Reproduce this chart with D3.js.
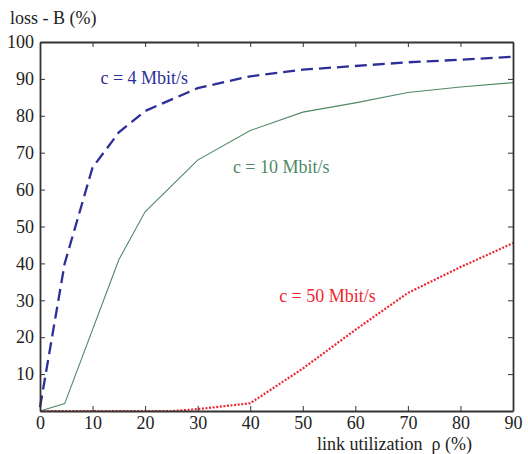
<!DOCTYPE html>
<html>
<head>
<meta charset="utf-8">
<script src="https://cdn.jsdelivr.net/npm/d3@7"></script>
<style>
  html, body { margin: 0; padding: 0; background: #fff; }
  svg { display: block; }
  text { font-family: "Liberation Serif", "DejaVu Serif", serif; }
</style>
</head>
<body>
<script>
// Loss probability B (%) versus link utilization rho (%) for three link capacities
const rho4   = [0, 4.7, 10, 15, 20, 30, 40, 50, 60, 70, 80, 90];
const loss4  = [1, 40, 66, 75.5, 81.3, 87.5, 90.7, 92.5, 93.5, 94.5, 95.2, 96];

const rho10  = [0, 4.7, 15, 20, 30, 40, 50, 60, 70, 80, 90];
const loss10 = [0, 2, 41, 54, 68, 76, 81, 83.5, 86.3, 87.8, 89];

const rho50  = [0, 10, 20, 25, 30, 35, 40, 50, 60, 70, 80, 90];
const loss50 = [0, 0, 0, 0, 0.5, 1.3, 2.1, 11.5, 22, 32, 39, 45.5];

const xTicks = [0, 10, 20, 30, 40, 50, 60, 70, 80, 90];
const yTicks = [10, 20, 30, 40, 50, 60, 70, 80, 90, 100];

const W = 528, H = 454;
const margin = { left: 40, right: 15, top: 42, bottom: 43 };

const svg = d3.select("body").append("svg")
  .attr("width", W).attr("height", H);

const x = d3.scaleLinear().domain([0, 90]).range([margin.left, W - margin.right]);
const y = d3.scaleLinear().domain([0, 100]).range([H - margin.bottom, margin.top]);

const axisColor = "#333";
const tickLen = 5;

// Curves
const line = d3.line().x(d => x(d[0])).y(d => y(d[1]));
const series = [
  { xs: rho4,  ys: loss4,  color: "#2b2f97", width: 2.3, dash: "12,6" },
  { xs: rho10, ys: loss10, color: "#4e8966", width: 1.1, dash: null },
  { xs: rho50, ys: loss50, color: "#ee2630", width: 2.2, dash: "2,1.6" }
];
series.forEach(s => {
  svg.append("path")
    .datum(s.xs.map((v, i) => [v, s.ys[i]]))
    .attr("d", line)
    .attr("fill", "none")
    .attr("stroke", s.color)
    .attr("stroke-width", s.width)
    .attr("stroke-dasharray", s.dash);
});

// Frame axes with inward ticks on all four sides
const gB = svg.append("g").attr("transform", `translate(0,${y(0)})`)
  .call(d3.axisBottom(x).tickValues(xTicks).tickSizeInner(-tickLen).tickSizeOuter(0));
const gT = svg.append("g").attr("transform", `translate(0,${y(100)})`)
  .call(d3.axisTop(x).tickValues(xTicks).tickSizeInner(-tickLen).tickSizeOuter(0).tickFormat(""));
const gL = svg.append("g").attr("transform", `translate(${x(0)},0)`)
  .call(d3.axisLeft(y).tickValues(yTicks).tickSizeInner(-tickLen).tickSizeOuter(0).tickPadding(6));
const gR = svg.append("g").attr("transform", `translate(${x(90)},0)`)
  .call(d3.axisRight(y).tickValues(yTicks).tickSizeInner(-tickLen).tickSizeOuter(0).tickFormat(""));

[gB, gT, gL, gR].forEach(g => {
  g.select(".domain").attr("stroke", axisColor).attr("stroke-width", 1.8);
  g.selectAll(".tick line").attr("stroke", axisColor).attr("stroke-width", 1);
  g.selectAll(".tick text")
    .attr("fill", "#222")
    .style("font-family", '"Liberation Serif", serif')
    .style("font-size", "18px");
});
gB.selectAll(".tick text").attr("dy", "0.71em").attr("y", 5);

// Axis titles
svg.append("text")
  .attr("x", 10).attr("y", 24)
  .attr("font-size", 18).attr("fill", "#222")
  .text("loss - B (%)");

svg.append("text")
  .attr("x", 472).attr("y", 450)
  .attr("text-anchor", "end")
  .attr("font-size", 18).attr("fill", "#222")
  .attr("xml:space", "preserve")
  .text("link utilization  ρ (%)");

// Curve labels
const labels = [
  { t: "c = 4 Mbit/s",  xv: 11.5, yv: 88.5, color: "#2b2f97" },
  { t: "c = 10 Mbit/s", xv: 36.7, yv: 64.5, color: "#4e8966" },
  { t: "c = 50 Mbit/s", xv: 45.5, yv: 29.5, color: "#ee2630" }
];
labels.forEach(l => {
  svg.append("text")
    .attr("x", x(l.xv)).attr("y", y(l.yv))
    .attr("font-size", 18).attr("fill", l.color)
    .text(l.t);
});
</script>
</body>
</html>
